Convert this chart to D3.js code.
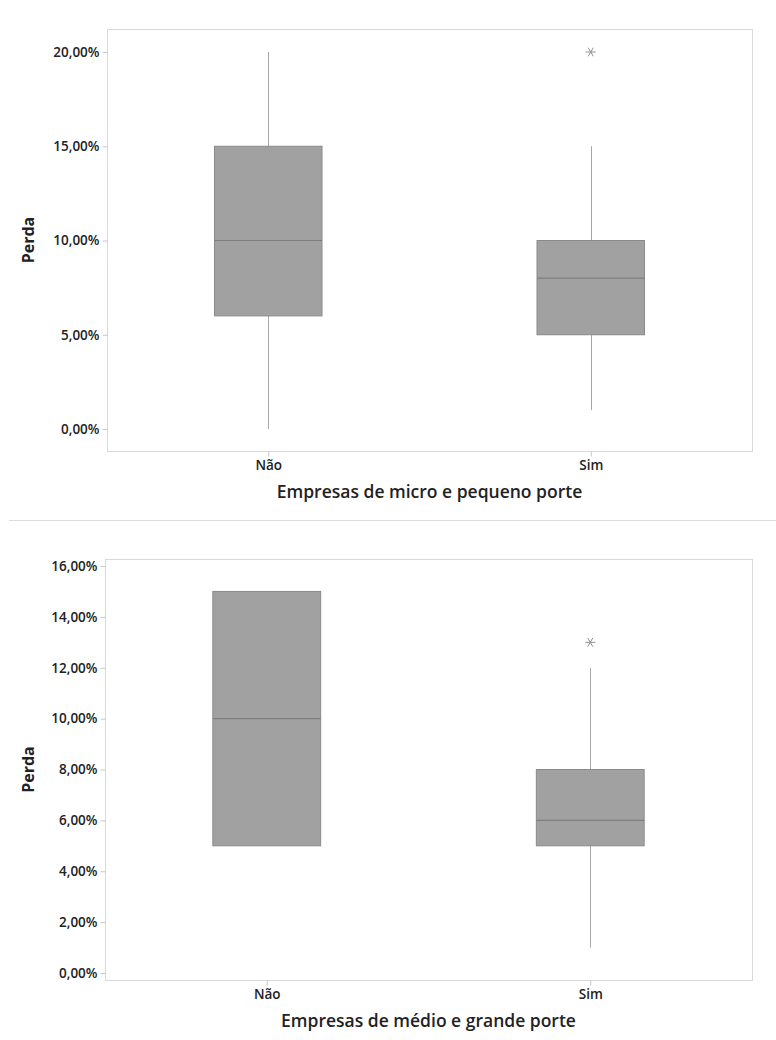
<!DOCTYPE html>
<html>
<head>
<meta charset="utf-8">
<script src="https://cdn.jsdelivr.net/npm/d3@7"></script>
<style>
  body { margin: 0; background: #fff; }
  text { font-family: "Open Sans", "Noto Sans", sans-serif; fill: #222; }
</style>
</head>
<body>
<script>
// categories and box statistics (values in %)
var groups = ['Não', 'Sim']

var microStats = [
  { cat: 'Não', low: 0, q1: 6, med: 10, q3: 15, high: 20, out: [] },
  { cat: 'Sim', low: 1, q1: 5, med: 8, q3: 10, high: 15, out: [20] }
]
var medioStats = [
  { cat: 'Não', low: 5, q1: 5, med: 10, q3: 15, high: 15, out: [] },
  { cat: 'Sim', low: 1, q1: 5, med: 6, q3: 8, high: 12, out: [13] }
]

var microTicks = [0, 5, 10, 15, 20]
var medioTicks = [0, 2, 4, 6, 8, 10, 12, 14, 16]

var fmt = function (d) { return d.toFixed(2).replace('.', ',') + '%' }

var svg = d3.select('body').append('svg')
  .attr('width', 776)
  .attr('height', 1040)

// separator between the two panels
svg.append('line')
  .attr('x1', 9).attr('x2', 776)
  .attr('y1', 520.5).attr('y2', 520.5)
  .attr('stroke', '#dcdcdc')

function drawPanel(stats, ticks, yDomain, frame, yRange, title) {
  var g = svg.append('g')

  var x = d3.scalePoint()
    .domain(groups)
    .range([frame.left, frame.right])
    .padding(0.5)

  var y = d3.scaleLinear()
    .domain(yDomain)
    .range(yRange)

  var boxW = (frame.right - frame.left) / 6

  // frame
  g.append('rect')
    .attr('x', frame.left + 0.5)
    .attr('y', frame.top + 0.5)
    .attr('width', frame.right - frame.left)
    .attr('height', frame.bottom - frame.top)
    .attr('fill', 'none')
    .attr('stroke', '#d9d9d9')

  // y axis
  var yAxis = g.append('g')
    .attr('transform', 'translate(' + (frame.left + 0.5) + ',0)')
    .call(d3.axisLeft(y).tickValues(ticks).tickFormat(fmt).tickSize(5).tickPadding(3))
  yAxis.select('.domain').remove()
  yAxis.selectAll('.tick line').attr('stroke', '#c8c8c8')
  yAxis.selectAll('.tick text')
    .attr('font-size', 13.5)
    .attr('font-weight', 600)
    .style('fill', '#222')

  // x axis
  var xAxis = g.append('g')
    .attr('transform', 'translate(0,' + (frame.bottom + 0.5) + ')')
    .call(d3.axisBottom(x).tickSize(5).tickPadding(4))
  xAxis.select('.domain').remove()
  xAxis.selectAll('.tick line').attr('stroke', '#c8c8c8')
  xAxis.selectAll('.tick text')
    .attr('font-size', 13.5)
    .attr('font-weight', 600)
    .style('fill', '#222')

  // axis titles
  g.append('text')
    .attr('x', (frame.left + frame.right) / 2)
    .attr('y', frame.bottom + 47)
    .attr('text-anchor', 'middle')
    .attr('font-size', 17.5)
    .attr('font-weight', 600)
    .text(title)

  g.append('text')
    .attr('transform', 'translate(34,' + ((frame.top + frame.bottom) / 2) + ') rotate(-90)')
    .attr('text-anchor', 'middle')
    .attr('font-size', 16)
    .attr('font-weight', 700)
    .text('Perda')

  var box = g.selectAll('.box')
    .data(stats)
    .enter()
    .append('g')
    .attr('class', 'box')

  // whiskers
  box.append('line')
    .attr('x1', function (d) { return Math.round(x(d.cat)) + 0.5 })
    .attr('x2', function (d) { return Math.round(x(d.cat)) + 0.5 })
    .attr('y1', function (d) { return y(d.high) })
    .attr('y2', function (d) { return y(d.q3) })
    .attr('stroke', '#a6a6a6')
  box.append('line')
    .attr('x1', function (d) { return Math.round(x(d.cat)) + 0.5 })
    .attr('x2', function (d) { return Math.round(x(d.cat)) + 0.5 })
    .attr('y1', function (d) { return y(d.q1) })
    .attr('y2', function (d) { return y(d.low) })
    .attr('stroke', '#a6a6a6')

  // boxes
  box.append('rect')
    .attr('x', function (d) { return x(d.cat) - boxW / 2 })
    .attr('y', function (d) { return y(d.q3) })
    .attr('width', boxW)
    .attr('height', function (d) { return y(d.q1) - y(d.q3) })
    .attr('fill', '#a1a1a1')
    .attr('stroke', '#8a8a8a')
    .attr('stroke-width', 1)

  // medians
  box.append('line')
    .attr('x1', function (d) { return x(d.cat) - boxW / 2 })
    .attr('x2', function (d) { return x(d.cat) + boxW / 2 })
    .attr('y1', function (d) { return y(d.med) })
    .attr('y2', function (d) { return y(d.med) })
    .attr('stroke', '#7e7e7e')
    .attr('stroke-width', 1.2)

  // outliers drawn as asterisks
  var outs = []
  stats.forEach(function (d) {
    d.out.forEach(function (v) { outs.push({ cat: d.cat, v: v }) })
  })
  g.selectAll('.outlier')
    .data(outs)
    .enter()
    .append('path')
    .attr('class', 'outlier')
    .attr('transform', function (d) { return 'translate(' + x(d.cat) + ',' + y(d.v) + ') rotate(90)' })
    .attr('d', d3.symbol(d3.symbolAsterisk, 70))
    .attr('fill', 'none')
    .attr('stroke', '#909090')
    .attr('stroke-width', 1)
}

drawPanel(microStats, microTicks, [0, 20],
  { left: 107, right: 752, top: 29, bottom: 451 }, [429, 52],
  'Empresas de micro e pequeno porte')

drawPanel(medioStats, medioTicks, [0, 16],
  { left: 105, right: 752, top: 559, bottom: 980 }, [973, 566],
  'Empresas de médio e grande porte')
</script>
</body>
</html>
